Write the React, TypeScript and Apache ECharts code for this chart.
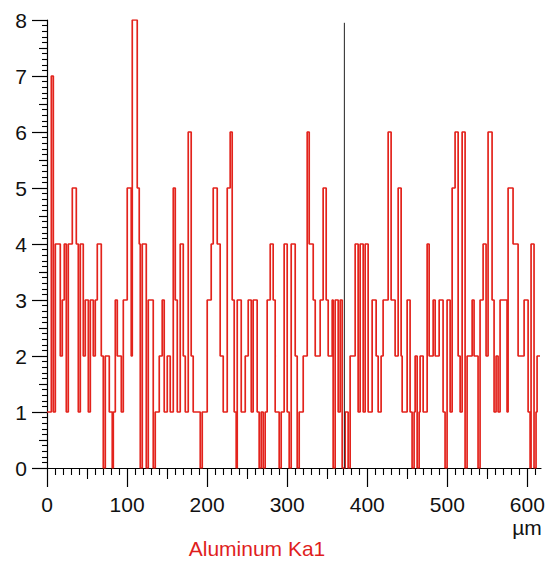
import React, { useEffect, useRef } from "react";
import * as echarts from "echarts";

// Step positions along the line scan (µm) and the count held from each position
const positions = [
  0, 5.4, 7.9, 10.4, 16.6, 19.1, 21.6, 24.1, 26.6, 31.6,
  36.6, 39.1, 41.6, 45.3, 47.8, 51.6, 54.1, 57.8, 60.3, 62.8,
  67.8, 70.3, 72.8, 77.8, 81.5, 82.8, 85.3, 87.8, 92.8, 95.3,
  100.2, 105.2, 106.5, 112.7, 115.2, 116.5, 119.0, 124.0, 126.5, 132.7,
  135.2, 140.2, 143.9, 146.4, 150.2, 153.9, 157.7, 160.2, 162.7, 166.4,
  170.2, 172.7, 176.4, 180.1, 182.6, 191.4, 193.9, 200.1, 205.1, 207.6,
  212.6, 216.3, 220.1, 225.1, 228.8, 231.3, 233.8, 236.3, 237.6, 242.6,
  247.6, 251.3, 255.1, 257.5, 262.5, 265.0, 267.5, 270.0, 272.5, 275.0,
  278.8, 282.5, 285.0, 290.0, 292.5, 296.2, 300.0, 302.5, 305.0, 310.0,
  312.5, 315.0, 320.0, 325.0, 327.5, 332.5, 335.0, 341.2, 344.9, 348.7,
  351.2, 356.2, 357.4, 359.9, 363.7, 366.2, 368.7, 372.4, 376.1, 378.6,
  384.9, 388.6, 391.1, 394.9, 397.4, 401.1, 406.1, 411.1, 413.6, 417.3,
  419.8, 426.1, 429.8, 434.8, 438.6, 442.3, 443.6, 449.8, 453.5, 456.0,
  458.5, 459.8, 462.3, 464.8, 466.0, 469.8, 474.8, 477.3, 482.3, 484.8,
  489.8, 494.7, 497.2, 499.7, 503.5, 506.0, 509.7, 513.5, 516.0, 518.5,
  522.2, 524.7, 531.0, 533.4, 538.4, 540.9, 544.7, 548.4, 550.9, 555.9,
  558.4, 560.9, 563.4, 565.9, 574.6, 575.9, 582.1, 588.4, 595.9, 600.9,
  603.4, 604.6, 608.3, 610.8, 612.1, 615.8,
];

const counts = [
  1, 7, 1, 4, 2, 3, 4, 1, 4, 5,
  4, 1, 4, 2, 3, 1, 3, 2, 3, 4,
  2, 0, 2, 1, 0, 1, 3, 2, 1, 3,
  5, 2, 8, 5, 4, 0, 4, 0, 3, 0,
  1, 2, 3, 1, 2, 1, 5, 3, 1, 4,
  2, 1, 6, 2, 1, 0, 1, 3, 4, 5,
  4, 2, 1, 5, 6, 3, 1, 0, 3, 1,
  2, 3, 1, 3, 1, 0, 1, 0, 1, 3,
  4, 3, 1, 0, 1, 4, 1, 0, 4, 2,
  0, 1, 2, 6, 4, 3, 2, 3, 5, 3,
  2, 3, 0, 3, 1, 3, 0, 1, 0, 2,
  4, 1, 4, 1, 4, 1, 3, 2, 1, 2,
  3, 6, 3, 2, 5, 2, 1, 3, 1, 0,
  1, 2, 0, 1, 2, 1, 4, 2, 3, 2,
  3, 1, 0, 3, 1, 5, 6, 2, 1, 6,
  0, 2, 3, 2, 0, 3, 4, 2, 6, 3,
  1, 2, 1, 3, 1, 5, 4, 2, 3, 1,
  0, 4, 0, 1, 2, 2,
];

// Cursor marker line
const cursorPosition = 371.4;
const cursorTop = 7.95;

// Axis ticks / labels
const xMajorTicks = [0, 100, 200, 300, 400, 500, 600];
const xMidTicks = [50, 150, 250, 350, 450, 550];
const yMidTicks = [0.5, 1.5, 2.5, 3.5, 4.5, 5.5, 6.5, 7.5];
const xMax = 617;
const yMax = 8;
const xUnit = "µm";
const elementLabel = "Aluminum Ka1";

export default function App() {
  const ref = useRef<HTMLDivElement>(null);

  useEffect(() => {
    if (!ref.current) return;
    const chart = echarts.init(ref.current, null, { renderer: "svg" });
    const font = "Liberation Sans, Arial, sans-serif";
    const lineData = positions.map((p, i) => [p, counts[i]]);

    chart.setOption({
      animation: false,
      backgroundColor: "#ffffff",
      grid: { left: 47, top: 20, width: 494, height: 448, containLabel: false },
      xAxis: [
        {
          type: "value",
          position: "bottom",
          min: 0,
          max: xMax,
          interval: 100,
          axisLine: { show: true, lineStyle: { color: "#000", width: 1.2 } },
          axisTick: {
            show: true,
            customValues: xMajorTicks,
            length: 19,
            lineStyle: { color: "#000", width: 1.2 },
          },
          minorTick: {
            show: true,
            splitNumber: 10,
            length: 7,
            lineStyle: { color: "#000", width: 1.1 },
          },
          axisLabel: {
            customValues: xMajorTicks,
            margin: 25,
            fontSize: 21,
            lineHeight: 22,
            fontFamily: font,
            color: "#111",
          },
          splitLine: { show: false },
          minorSplitLine: { show: false },
        },
        {
          type: "value",
          position: "bottom",
          min: 0,
          max: xMax,
          interval: 50,
          axisLine: { show: false },
          axisTick: {
            show: true,
            customValues: xMidTicks,
            length: 11,
            lineStyle: { color: "#000", width: 1.1 },
          },
          axisLabel: { show: false },
          splitLine: { show: false },
        },
      ],
      yAxis: [
        {
          type: "value",
          position: "left",
          min: 0,
          max: yMax,
          interval: 1,
          axisLine: { show: true, lineStyle: { color: "#000", width: 1.2 } },
          axisTick: { show: true, length: 15, lineStyle: { color: "#000", width: 1.2 } },
          minorTick: {
            show: true,
            splitNumber: 10,
            length: 5,
            lineStyle: { color: "#000", width: 1.1 },
          },
          axisLabel: {
            margin: 20,
            fontSize: 21,
            fontFamily: font,
            color: "#111",
          },
          splitLine: { show: false },
          minorSplitLine: { show: false },
        },
        {
          type: "value",
          position: "left",
          min: 0,
          max: yMax,
          interval: 0.5,
          axisLine: { show: false },
          axisTick: {
            show: true,
            customValues: yMidTicks,
            length: 8,
            lineStyle: { color: "#000", width: 1.1 },
          },
          axisLabel: { show: false },
          splitLine: { show: false },
        },
      ],
      series: [
        {
          type: "line",
          name: elementLabel,
          xAxisIndex: 0,
          yAxisIndex: 0,
          step: "end",
          data: lineData,
          symbol: "none",
          lineStyle: { color: "#e3231c", width: 1.7 },
          z: 3,
        },
        {
          type: "line",
          name: "cursor",
          xAxisIndex: 0,
          yAxisIndex: 0,
          data: [
            [cursorPosition, 0],
            [cursorPosition, cursorTop],
          ],
          symbol: "none",
          lineStyle: { color: "#222", width: 1 },
          z: 4,
        },
      ],
      graphic: [
        {
          type: "text",
          x: 527,
          y: 517,
          style: {
            text: xUnit,
            fontSize: 21,
            lineHeight: 21,
            fontFamily: font,
            fill: "#111",
            textAlign: "center",
          },
        },
        {
          type: "text",
          x: 257,
          y: 538,
          style: {
            text: elementLabel,
            fontSize: 21,
            fontFamily: font,
            fill: "#e01e1e",
            textAlign: "center",
          },
        },
      ],
    });

    return () => chart.dispose();
  }, []);

  return (
    <div
      ref={ref}
      style={{ position: "absolute", left: 0, top: 0, width: 560, height: 567 }}
    />
  );
}
